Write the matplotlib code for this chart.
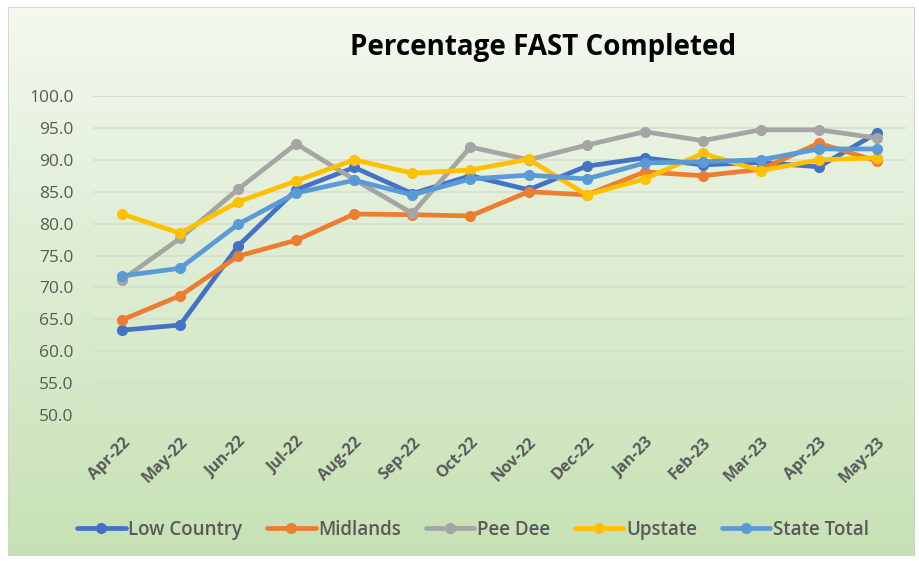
import numpy as np
import matplotlib
matplotlib.use('Agg')
import matplotlib.pyplot as plt
from matplotlib.patches import Rectangle

# data
months = ['Apr-22', 'May-22', 'Jun-22', 'Jul-22', 'Aug-22', 'Sep-22', 'Oct-22',
          'Nov-22', 'Dec-22', 'Jan-23', 'Feb-23', 'Mar-23', 'Apr-23', 'May-23']
low_country = [63.3, 64.1, 76.5, 85.3, 88.8, 84.7, 87.5, 85.3, 89.0, 90.3, 89.2, 89.6, 88.9, 94.2]
midlands = [64.9, 68.7, 74.9, 77.4, 81.5, 81.4, 81.2, 85.0, 84.5, 88.1, 87.5, 88.5, 92.6, 89.8]
pee_dee = [71.2, 77.7, 85.4, 92.5, 86.9, 81.6, 92.0, 90.0, 92.3, 94.4, 93.0, 94.7, 94.7, 93.4]
upstate = [81.5, 78.5, 83.4, 86.7, 90.0, 87.9, 88.4, 90.1, 84.5, 87.0, 91.0, 88.3, 90.0, 90.3]
state_total = [71.8, 73.0, 79.9, 84.8, 86.8, 84.5, 87.0, 87.6, 87.0, 89.5, 89.7, 90.0, 91.7, 91.7]

series = [('Low Country', low_country, '#4472C4'),
          ('Midlands', midlands, '#ED7D31'),
          ('Pee Dee', pee_dee, '#A5A5A5'),
          ('Upstate', upstate, '#FFC000'),
          ('State Total', state_total, '#5B9BD5')]

plt.rcParams['font.family'] = ['Open Sans', 'DejaVu Sans']

W, H = 920, 561
fig = plt.figure(figsize=(W / 100, H / 100), dpi=100)
fig.patch.set_facecolor('white')

# gradient background panel
bg = fig.add_axes([8 / W, 1 - 556 / H, (915 - 8) / W, (556 - 7) / H])
bg.set_axis_off()
grad = np.linspace(0, 1, 256).reshape(-1, 1)
top = np.array([0.96, 0.975, 0.945])
bot = np.array([0.78, 0.885, 0.71])
img = top + (bot - top) * grad[:, :, None] ** 0.9
bg.imshow(img, aspect='auto', extent=[0, 1, 0, 1], origin='upper')
bg.add_patch(Rectangle((0, 0), 1, 1, transform=bg.transAxes, fill=False,
                       edgecolor='#d0d0d0', linewidth=1.2))

ax = fig.add_axes([93 / W, 1 - 415 / H, (906 - 93) / W, (415 - 96) / H])
ax.set_facecolor('none')

x = np.arange(len(months))
for name, vals, col in series:
    ax.plot(x, vals, color=col, linewidth=3.4, marker='o', markersize=7,
            label=name, solid_capstyle='round')

ax.set_xlim(-0.5, len(months) - 0.5)
ax.set_ylim(50, 100)
ax.set_yticks(np.arange(50, 100.1, 5))
ax.set_yticklabels([f'{v:.1f}' for v in np.arange(50, 100.1, 5)])
ax.yaxis.grid(True, color='#d8ddd4', linewidth=1.2)
ax.set_axisbelow(True)
for s in ax.spines.values():
    s.set_visible(False)
ax.tick_params(axis='both', length=0)
ax.tick_params(axis='y', labelsize=12.5, labelcolor='#595959', pad=14)
ax.set_xticks(x)
ax.set_xticklabels(months, rotation=45, ha='right', rotation_mode='anchor',
                   fontsize=11.5, fontweight='bold', color='#595959')
ax.tick_params(axis='x', pad=14)

fig.text(543 / W, 1 - 47 / H, 'Percentage FAST Completed', ha='center', va='center',
         fontsize=20, fontweight='bold', color='black')

leg = fig.legend(loc='center', bbox_to_anchor=(473 / W, 1 - 530 / H), ncol=5,
                 frameon=False, fontsize=13.5, handlelength=2.6, columnspacing=1.3,
                 handletextpad=0.15)
for t in leg.get_texts():
    t.set_color('#595959')
    t.set_fontweight('semibold')

fig.savefig('out.png', dpi=100)
